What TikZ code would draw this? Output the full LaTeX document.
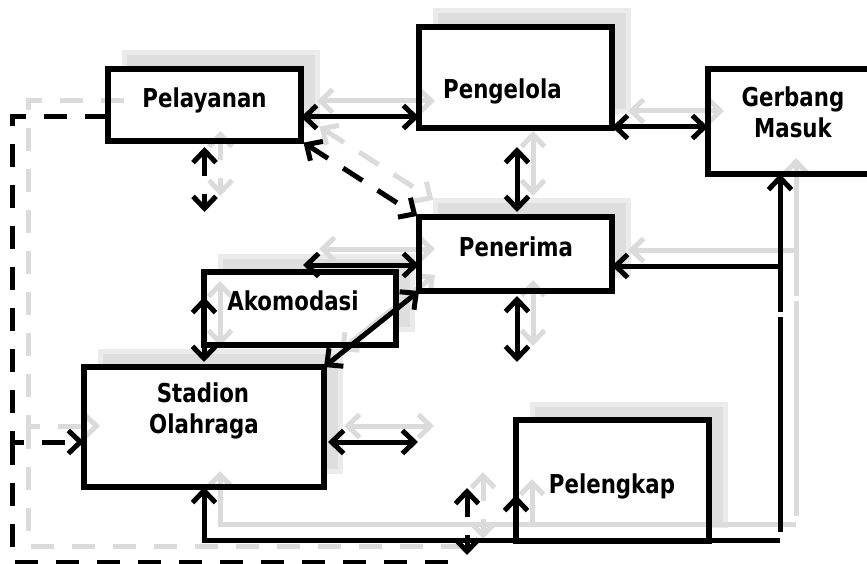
\documentclass[tikz,border=0pt]{standalone}
\usepackage{fontspec}
\setmainfont{DejaVu Sans}[FakeStretch=0.82]
\usetikzlibrary{arrows.meta}
\pgfdeclarelayer{bgl}
\pgfdeclarelayer{gbox}
\pgfdeclarelayer{wfill}
\pgfdeclarelayer{gline}
\pgfsetlayers{bgl,gbox,wfill,gline,main}

\tikzset{
  myb/.tip={Straight Barb[length=12pt,width=23pt]},
  dbl/.style={myb-myb},
  sgl/.style={-myb},
  ln/.style={line width=5pt, draw=black},
  dashpat/.style={dash pattern=on 23pt off 18pt},
  boxlook/.style={fill=white},
  gmlook/.style={},
  bx/.style 2 args={rectangle, inner sep=0pt, outer sep=0pt,
     minimum width=#1, minimum height=#2, boxlook},
  boxline/.style={line width=5.5pt, draw=black},
  lbl/.style={font=\fontsize{26}{30}\selectfont\bfseries, inner sep=0pt, anchor=base, text=black},
}

\newcommand\mkboxes[1]{%
  \node[bx={193}{72}] (#1pel) at (204.5,105) {};
  \node[bx={193}{101}] (#1pgl) at (515.5,77.5) {};
  \node[bx={170}{105}, gmlook] (#1gm) at (793,121.5) {};
  \node[bx={193}{74}] (#1pen) at (515.5,254) {};
  \node[bx={192}{73}] (#1ako) at (300,308.5) {};
  \node[bx={240}{120}] (#1sta) at (204,427) {};
  \node[bx={193}{121}] (#1plk) at (612.5,480.5) {};
}

\newcommand\mklinks[1]{%
  \coordinate (#1k1) at (0,117);
  \coordinate (#1k2) at (0,127);
  \coordinate (#1k3) at (517,0);
  \coordinate (#1d5) at (204.5,212);
  \coordinate (#1a6) at (303,265);
  \coordinate (#1a7) at (204,297);
  \coordinate (#1d9) at (517,362);
  \coordinate (#1d10) at (418,442);
  \coordinate (#1lft) at (12,442);
  \coordinate (#1bl) at (12,562);
  \coordinate (#1br) at (462,562);
  \coordinate (#1dda) at (467,488);
  \coordinate (#1ddb) at (467,555);
  \coordinate (#1v1) at (780,312);
  \coordinate (#1v2) at (780,266);
  \coordinate (#1v3) at (780,317);
  \coordinate (#1v4) at (780,532);
  \coordinate (#1v5) at (780,540);
  \coordinate (#1p5) at (516,495);
  \draw[ln, dbl] (#1pel.east |- #1k1) -- (#1pgl.west |- #1k1);
  \draw[ln, dbl] (#1pgl.east |- #1k2) -- (#1gm.west |- #1k2);
  \draw[ln, dbl, shorten <=19pt, shorten >=5pt] (#1pgl.south -| #1k3) -- (#1pen.north -| #1k3);
  \draw[ln, dbl, dashpat, shorten <=3pt, shorten >=2pt] (#1pel.south east) -- (#1pen.north west);
  \draw[ln, dbl, dashpat, shorten <=6pt] (#1pel.south) -- (#1d5);
  \draw[ln, dbl] (#1a6) -- (#1pen.west |- #1a6);
  \draw[ln, dbl, shorten >=5pt] (#1a7) -- (#1sta.north -| #1a7);
  \draw[ln, dbl] (#1pen.south west) -- (#1sta.north east);
  \draw[ln, dbl, shorten <=5pt] (#1pen.south -| #1k3) -- (#1d9);
  \draw[ln, dbl, shorten <=4pt] (#1sta.east |- #1d10) -- (#1d10);
  \draw[ln, sgl, dashpat] (#1pel.west |- #1k1) -| (#1lft) -- (#1sta.west |- #1lft);
  \draw[ln, dashpat] (#1lft) -- (#1bl) -- (#1br);
  \draw[ln, dbl, dashpat] (#1dda) -- (#1ddb);
  \draw[ln, sgl] (#1v1) -- (#1gm.south -| #1v1);
  \draw[ln, sgl] (#1v2) -- (#1pen.east |- #1v2);
  \draw[ln] (#1v3) -- (#1v4);
  \draw[ln, sgl] (#1v5) -| (#1sta.south);
  \draw[ln, sgl] (#1plk.south west) -- (#1p5);
}

\begin{document}
\begin{tikzpicture}[x=1pt, y=-1pt]
  \useasboundingbox (0,0) rectangle (867,564);
  \begin{pgfonlayer}{bgl}
    \fill[white] (0,0) rectangle (867,564);
  \end{pgfonlayer}

  % grey ghost copy, shifted up and right
  \begin{scope}[shift={(16,-16)},
      ln/.style={line width=5pt, draw=black!14},
      boxlook/.style={fill=black!13, draw=black!8, line width=5pt},
      gmlook/.style={fill=none, draw=none}]
    \begin{pgfonlayer}{gbox}
      \mkboxes{g}
    \end{pgfonlayer}
    \begin{pgfonlayer}{gline}
      \mklinks{g}
    \end{pgfonlayer}
  \end{scope}

  % black diagram
  \begin{pgfonlayer}{wfill}
    \mkboxes{}
  \end{pgfonlayer}
  \foreach \n in {pel,pgl,gm,pen,ako,sta,plk}
    \draw[boxline] (\n.north west) rectangle (\n.south east);
  \mklinks{}

  % labels
  \node[lbl] (tpel) at (204.5,108) {Pelayanan};
  \node[lbl] (tpgl) at (502.5,99) {Pengelola};
  \node[lbl] (tgm1) at (793,107) {Gerbang};
  \node[lbl] (tgm2) at (793,138) {Masuk};
  \node[lbl] (tpen) at (516,256) {Penerima};
  \node[lbl] (tako) at (293,310) {Akomodasi};
  \node[lbl] (tsta1) at (203,402) {Stadion};
  \node[lbl] (tsta2) at (204,433) {Olahraga};
  \node[lbl] (tplk) at (612,493) {Pelengkap};
\end{tikzpicture}
\end{document}
